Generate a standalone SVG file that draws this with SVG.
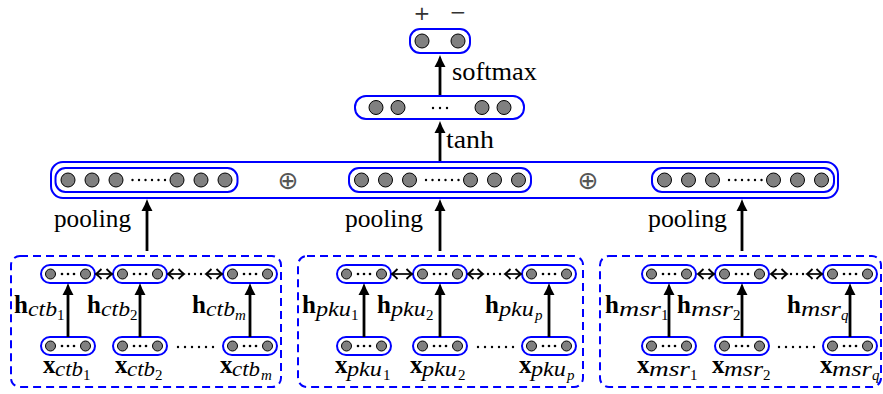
<svg xmlns="http://www.w3.org/2000/svg" width="883" height="394" viewBox="0 0 883 394">
<style>
  .box { fill: #ffffff; stroke: #0000ff; stroke-width: 2; }
  .grp { fill: none; stroke: #0000ff; stroke-width: 2; stroke-dasharray: 8 5; }
  .u { fill: #808080; stroke: #000000; stroke-width: 1; }
  .d { fill: #000000; }
  .arr { stroke: #000000; stroke-width: 2.8; fill: none; marker-end: url(#head); }
  .bi { stroke: #000000; stroke-width: 1.7; fill: none; marker-start: url(#open); marker-end: url(#open); }
  .t { font-family: "Liberation Serif", "Times New Roman", serif; font-size: 25px; fill: #000000; }
  .pm { font-family: "DejaVu Sans", sans-serif; font-size: 20px; fill: #333333; }
  .op { font-family: "DejaVu Sans", sans-serif; font-size: 25px; fill: #555555; }
  .b { font-family: "Liberation Serif", serif; font-weight: bold; font-size: 25px; }
  .i { font-family: "Liberation Serif", serif; font-style: italic; font-size: 21px; }
  .s { font-family: "Liberation Serif", serif; font-size: 15px; }
  .si { font-family: "Liberation Serif", serif; font-style: italic; font-size: 15px; }
</style>
<defs>
  <marker id="head" markerUnits="userSpaceOnUse" viewBox="-5 -6 14 12" refX="0" refY="0" markerWidth="14" markerHeight="12" orient="auto">
    <path d="M8,0 Q2,-2 -4,-5.5 L-4,5.5 Q2,2 8,0 Z" fill="#000000"/>
  </marker>
  <marker id="open" markerUnits="userSpaceOnUse" viewBox="-7 -7 9 14" refX="0" refY="0" markerWidth="9" markerHeight="14" orient="auto-start-reverse">
    <path d="M-5.5,-5 Q-1.5,-1 0,0 Q-1.5,1 -5.5,5" fill="none" stroke="#000000" stroke-width="1.9"/>
  </marker>
  <!-- small vector node: two units with an ellipsis -->
  <g id="vec">
    <rect x="0" y="0" width="54" height="18" rx="9" class="box"/>
    <circle cx="9.5" cy="9" r="5" class="u"/>
    <circle cx="44.5" cy="9" r="5" class="u"/>
    <circle cx="21" cy="9" r="1.3" class="d"/>
    <circle cx="27" cy="9" r="1.3" class="d"/>
    <circle cx="33" cy="9" r="1.3" class="d"/>
  </g>
  <!-- pooled vector: six units with an ellipsis -->
  <g id="pool">
    <rect x="0" y="0" width="182" height="24" rx="10" class="box"/>
    <circle cx="12.5" cy="12" r="7" class="u"/>
    <circle cx="36.5" cy="12" r="7" class="u"/>
    <circle cx="60.5" cy="12" r="7" class="u"/>
    <circle cx="77" cy="12" r="1.2" class="d"/>
    <circle cx="83.5" cy="12" r="1.2" class="d"/>
    <circle cx="90" cy="12" r="1.2" class="d"/>
    <circle cx="96.5" cy="12" r="1.2" class="d"/>
    <circle cx="103" cy="12" r="1.2" class="d"/>
    <circle cx="109.5" cy="12" r="1.2" class="d"/>
    <circle cx="121.5" cy="12" r="7" class="u"/>
    <circle cx="145.5" cy="12" r="7" class="u"/>
    <circle cx="169.5" cy="12" r="7" class="u"/>
  </g>
</defs>

<!-- output layer -->
<g id="output">
  <text class="pm" x="422" y="20" text-anchor="middle">+</text>
  <text class="pm" x="458" y="19" text-anchor="middle">−</text>
  <rect x="410" y="29" width="60" height="24" rx="10" class="box"/>
  <circle cx="422" cy="41" r="7" class="u"/>
  <circle cx="458" cy="41" r="7" class="u"/>
</g>

<!-- hidden layer -->
<g id="hidden">
  <rect x="355" y="96" width="169" height="23" rx="11" class="box"/>
  <circle cx="376" cy="107.5" r="7" class="u"/>
  <circle cx="398" cy="107.5" r="7" class="u"/>
  <circle cx="433" cy="108" r="1.2" class="d"/>
  <circle cx="440" cy="108" r="1.2" class="d"/>
  <circle cx="447" cy="108" r="1.2" class="d"/>
  <circle cx="482" cy="107.5" r="7" class="u"/>
  <circle cx="504" cy="107.5" r="7" class="u"/>
</g>

<!-- concatenated pooled vectors -->
<g id="concat">
  <rect x="51" y="162" width="787" height="36" rx="12" class="box"/>
  <use href="#pool" x="55.5" y="168"/>
  <use href="#pool" x="349" y="168"/>
  <use href="#pool" x="652" y="168"/>
  <text class="op" x="288" y="189" text-anchor="middle">⊕</text>
  <text class="op" x="588" y="189" text-anchor="middle">⊕</text>
</g>

<!-- corpus groups -->
<g id="group-ctb">
  <rect x="11" y="256" width="270" height="131" rx="9" class="grp"/>
  <use href="#vec" x="41" y="265"/>
  <use href="#vec" x="113" y="265"/>
  <use href="#vec" x="223" y="265"/>
  <use href="#vec" x="41" y="337"/>
  <use href="#vec" x="113" y="337"/>
  <use href="#vec" x="223" y="337"/>
  <text><tspan class="b" x="14" y="313">h</tspan><tspan class="i" x="28" y="316" textLength="29" lengthAdjust="spacingAndGlyphs">ctb</tspan><tspan class="s" x="57" y="320">1</tspan></text>
  <text><tspan class="b" x="87" y="313">h</tspan><tspan class="i" x="101" y="316" textLength="29" lengthAdjust="spacingAndGlyphs">ctb</tspan><tspan class="s" x="130" y="320">2</tspan></text>
  <text><tspan class="b" x="192" y="313">h</tspan><tspan class="i" x="206" y="316" textLength="29" lengthAdjust="spacingAndGlyphs">ctb</tspan><tspan class="si" x="235" y="320">m</tspan></text>
  <text><tspan class="b" x="43" y="373">x</tspan><tspan class="i" x="55" y="376" textLength="28" lengthAdjust="spacingAndGlyphs">ctb</tspan><tspan class="s" x="83" y="380">1</tspan></text>
  <text><tspan class="b" x="115" y="373">x</tspan><tspan class="i" x="127" y="376" textLength="28" lengthAdjust="spacingAndGlyphs">ctb</tspan><tspan class="s" x="155" y="380">2</tspan></text>
  <text><tspan class="b" x="220" y="373">x</tspan><tspan class="i" x="232" y="376" textLength="28" lengthAdjust="spacingAndGlyphs">ctb</tspan><tspan class="si" x="261" y="380">m</tspan></text>
  <g class="d">
    <circle cx="178" cy="347" r="1.2"/><circle cx="185" cy="347" r="1.2"/><circle cx="192" cy="347" r="1.2"/>
    <circle cx="199" cy="347" r="1.2"/><circle cx="206" cy="347" r="1.2"/><circle cx="213" cy="347" r="1.2"/>
    <circle cx="189" cy="274" r="1.2"/><circle cx="195" cy="274" r="1.2"/><circle cx="201" cy="274" r="1.2"/>
  </g>
</g>

<g id="group-pku">
  <rect x="298" y="256" width="285" height="131" rx="9" class="grp"/>
  <use href="#vec" x="337" y="265"/>
  <use href="#vec" x="413" y="265"/>
  <use href="#vec" x="522" y="265"/>
  <use href="#vec" x="337" y="337"/>
  <use href="#vec" x="413" y="337"/>
  <use href="#vec" x="522" y="337"/>
  <text><tspan class="b" x="302" y="313">h</tspan><tspan class="i" x="316" y="316" textLength="35" lengthAdjust="spacingAndGlyphs">pku</tspan><tspan class="s" x="351" y="320">1</tspan></text>
  <text><tspan class="b" x="377" y="313">h</tspan><tspan class="i" x="391" y="316" textLength="35" lengthAdjust="spacingAndGlyphs">pku</tspan><tspan class="s" x="426" y="320">2</tspan></text>
  <text><tspan class="b" x="485" y="313">h</tspan><tspan class="i" x="499" y="316" textLength="35" lengthAdjust="spacingAndGlyphs">pku</tspan><tspan class="si" x="535" y="320">p</tspan></text>
  <text><tspan class="b" x="335" y="373">x</tspan><tspan class="i" x="347" y="376" textLength="35" lengthAdjust="spacingAndGlyphs">pku</tspan><tspan class="s" x="383" y="380">1</tspan></text>
  <text><tspan class="b" x="410" y="373">x</tspan><tspan class="i" x="422" y="376" textLength="35" lengthAdjust="spacingAndGlyphs">pku</tspan><tspan class="s" x="458" y="380">2</tspan></text>
  <text><tspan class="b" x="519" y="373">x</tspan><tspan class="i" x="531" y="376" textLength="35" lengthAdjust="spacingAndGlyphs">pku</tspan><tspan class="si" x="567" y="380">p</tspan></text>
  <g class="d">
    <circle cx="478" cy="347" r="1.2"/><circle cx="485" cy="347" r="1.2"/><circle cx="492" cy="347" r="1.2"/>
    <circle cx="499" cy="347" r="1.2"/><circle cx="506" cy="347" r="1.2"/><circle cx="513" cy="347" r="1.2"/>
    <circle cx="488" cy="274" r="1.2"/><circle cx="494" cy="274" r="1.2"/><circle cx="500" cy="274" r="1.2"/>
  </g>
</g>

<g id="group-msr">
  <rect x="600" y="256" width="281" height="131" rx="9" class="grp"/>
  <use href="#vec" x="642" y="265"/>
  <use href="#vec" x="715" y="265"/>
  <use href="#vec" x="823" y="265"/>
  <use href="#vec" x="642" y="337"/>
  <use href="#vec" x="715" y="337"/>
  <use href="#vec" x="823" y="337"/>
  <text><tspan class="b" x="605" y="313">h</tspan><tspan class="i" x="619" y="316" textLength="42" lengthAdjust="spacingAndGlyphs">msr</tspan><tspan class="s" x="661" y="320">1</tspan></text>
  <text><tspan class="b" x="677" y="313">h</tspan><tspan class="i" x="691" y="316" textLength="42" lengthAdjust="spacingAndGlyphs">msr</tspan><tspan class="s" x="733" y="320">2</tspan></text>
  <text><tspan class="b" x="787" y="313">h</tspan><tspan class="i" x="801" y="316" textLength="40" lengthAdjust="spacingAndGlyphs">msr</tspan><tspan class="si" x="841" y="320">q</tspan></text>
  <text><tspan class="b" x="637" y="373">x</tspan><tspan class="i" x="649" y="376" textLength="41" lengthAdjust="spacingAndGlyphs">msr</tspan><tspan class="s" x="690" y="380">1</tspan></text>
  <text><tspan class="b" x="712" y="373">x</tspan><tspan class="i" x="724" y="376" textLength="39" lengthAdjust="spacingAndGlyphs">msr</tspan><tspan class="s" x="763" y="380">2</tspan></text>
  <text><tspan class="b" x="820" y="373">x</tspan><tspan class="i" x="832" y="376" textLength="40" lengthAdjust="spacingAndGlyphs">msr</tspan><tspan class="si" x="872" y="380">q</tspan></text>
  <g class="d">
    <circle cx="779" cy="347" r="1.2"/><circle cx="786" cy="347" r="1.2"/><circle cx="793" cy="347" r="1.2"/>
    <circle cx="800" cy="347" r="1.2"/><circle cx="807" cy="347" r="1.2"/><circle cx="814" cy="347" r="1.2"/>
    <circle cx="791" cy="274" r="1.2"/><circle cx="797" cy="274" r="1.2"/><circle cx="803" cy="274" r="1.2"/>
  </g>
</g>

<!-- connectors -->
<g id="connectors">
  <line class="arr" x1="440" y1="95" x2="440" y2="63"/>
  <line class="arr" x1="440" y1="161" x2="440" y2="129"/>
  <line class="arr" x1="147" y1="251" x2="147" y2="207"/>
  <line class="arr" x1="440" y1="251" x2="440" y2="207"/>
  <line class="arr" x1="742" y1="251" x2="742" y2="207"/>

  <line class="arr" x1="68" y1="337" x2="68" y2="291"/>
  <line class="arr" x1="140" y1="337" x2="140" y2="291"/>
  <line class="arr" x1="250" y1="337" x2="250" y2="291"/>
  <line class="arr" x1="364" y1="337" x2="364" y2="291"/>
  <line class="arr" x1="440" y1="337" x2="440" y2="291"/>
  <line class="arr" x1="549" y1="337" x2="549" y2="291"/>
  <line class="arr" x1="669" y1="337" x2="669" y2="291"/>
  <line class="arr" x1="742" y1="337" x2="742" y2="291"/>
  <line class="arr" x1="850" y1="337" x2="850" y2="291"/>

  <line class="bi" x1="96" y1="274" x2="112" y2="274"/>
  <line class="bi" x1="168" y1="274" x2="184" y2="274"/>
  <line class="bi" x1="206" y1="274" x2="222" y2="274"/>
  <line class="bi" x1="392" y1="274" x2="412" y2="274"/>
  <line class="bi" x1="468" y1="274" x2="483" y2="274"/>
  <line class="bi" x1="505" y1="274" x2="521" y2="274"/>
  <line class="bi" x1="698" y1="274" x2="714" y2="274"/>
  <line class="bi" x1="771" y1="274" x2="787" y2="274"/>
  <line class="bi" x1="807" y1="274" x2="822" y2="274"/>
</g>

<!-- edge labels -->
<g id="edge-labels" class="t">
  <text x="452" y="80" textLength="85" lengthAdjust="spacingAndGlyphs">softmax</text>
  <text x="446" y="148" textLength="48" lengthAdjust="spacingAndGlyphs">tanh</text>
  <text x="54" y="227" textLength="77" lengthAdjust="spacingAndGlyphs">pooling</text>
  <text x="345" y="227" textLength="78" lengthAdjust="spacingAndGlyphs">pooling</text>
  <text x="648" y="227" textLength="79" lengthAdjust="spacingAndGlyphs">pooling</text>
</g>
</svg>
